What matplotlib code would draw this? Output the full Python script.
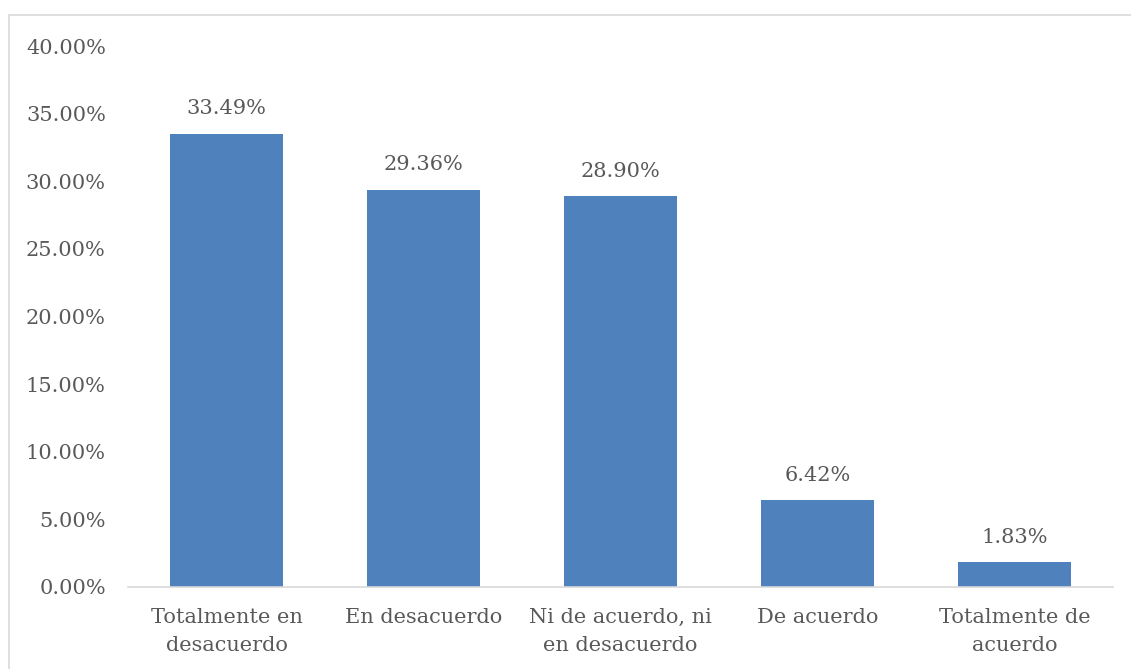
import numpy as np
import matplotlib as mpl
mpl.use("Agg")
import matplotlib.pyplot as plt
import matplotlib.ticker as ticker
from matplotlib.patches import Rectangle

categorias = ["Totalmente en\ndesacuerdo", "En desacuerdo",
              "Ni de acuerdo, ni\nen desacuerdo", "De acuerdo",
              "Totalmente de\nacuerdo"]
porcentajes = [33.49, 29.36, 28.90, 6.42, 1.83]

azul = "#4F81BD"
gris_texto = "#595959"
fuente = "DejaVu Serif"
tam = 15

fig = plt.figure(figsize=(11.31, 6.69), dpi=100)
ax = fig.add_axes([128 / 1131, 82 / 669, 985 / 1131, 541 / 669])

# marco exterior del grafico
fig.patches.append(Rectangle((9 / 1131, -0.1), 1.2, (669 - 15) / 669 + 0.1,
                             transform=fig.transFigure, fill=False,
                             edgecolor="#D9D9D9", linewidth=1.2))

x = np.arange(len(categorias))
barras = ax.bar(x, porcentajes, width=0.57, color=azul)

for b, v in zip(barras, porcentajes):
    ax.text(b.get_x() + b.get_width() / 2, v + 1.15, "{:.2f}%".format(v),
            ha="center", va="bottom", fontsize=tam, color=gris_texto,
            family=fuente)

ax.set_xlim(-0.5, len(categorias) - 0.5)
ax.set_ylim(0, 40)
ax.yaxis.set_major_locator(ticker.MultipleLocator(5))
ax.yaxis.set_major_formatter(ticker.FuncFormatter(lambda v, p: "{:.2f}%".format(v)))
ax.set_xticks(x)
ax.set_xticklabels(categorias, linespacing=1.6)

for lbl in ax.get_xticklabels() + ax.get_yticklabels():
    lbl.set_family(fuente)
    lbl.set_fontsize(tam)
    lbl.set_color(gris_texto)

ax.tick_params(axis="both", length=0)
ax.tick_params(axis="y", pad=16)
ax.tick_params(axis="x", pad=15)
for s in ["top", "right", "left"]:
    ax.spines[s].set_visible(False)
ax.spines["bottom"].set_color("#D9D9D9")
ax.spines["bottom"].set_linewidth(1.2)

fig.savefig("out.png", dpi=100)
